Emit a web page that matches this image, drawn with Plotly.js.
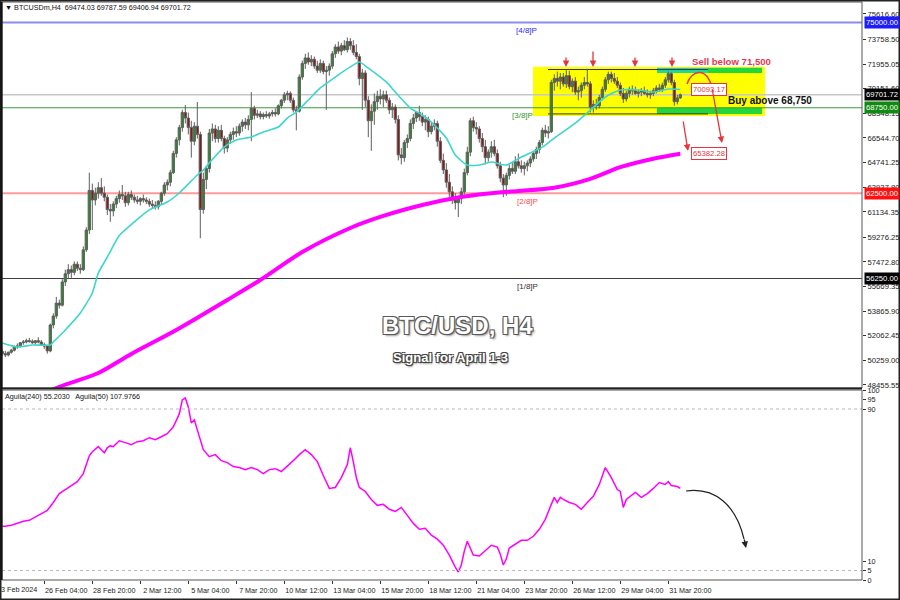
<!DOCTYPE html>
<html>
<head>
<meta charset="utf-8">
<script src="https://cdn.plot.ly/plotly-3.0.1.min.js"></script>
<style>html,body{margin:0;padding:0;background:#fff}#chart{width:900px;height:600px}</style>
</head>
<body>
<div id="chart"></div>
<script>
// ---------- DATA (H4 bars) ----------
const firstBar = '2024-02-23 20:00';
const barHours = 4;

const openP = [
50900,
50750,50650,50850,51000,51250,51300,
51550,51600,51700,51650,51550,51700,
51600,51400,51300,50950,52850,53500,
54450,54300,56000,56600,56900,56700,
57300,57000,56900,58350,59800,62700,
62000,62500,62900,62500,62200,61300,
61200,61700,62100,62400,62300,61800,
62400,62200,62000,61900,62100,62000,
61900,61700,61600,61500,61900,62500,
63100,63300,64000,65400,66400,67300,
68400,68000,67300,66300,67400,66800,
61300,63500,64300,66900,67200,66500,
67100,66500,65800,66400,66800,67000,
66900,67400,67700,67500,67900,68700,
68200,68300,68100,68250,68150,68300,
68400,68300,68900,69300,69700,69800,
69300,68600,68500,71000,72000,72400,
72100,72300,71800,71500,72000,71400,
71500,71800,72700,73200,72900,73300,
73000,73600,73300,72800,72500,70900,
71300,69300,67800,68500,69200,69600,
69400,69700,69300,68600,68800,67900,
65300,65100,66200,66500,67600,68000,
68400,68100,67700,67900,67000,67400,
67600,66300,64900,64200,63300,62600,
62000,61800,62100,62600,64000,65500,
67800,67300,67200,66500,65900,65100,
65500,65900,65400,64500,63600,63100,
63800,64300,64100,64800,64500,64300,
64500,64700,65000,65400,65700,66200,
67100,66900,67000,70600,70900,70700,
71000,70500,71100,70300,70700,69900,
70000,70400,70600,70500,68800,69000,
68900,69500,70100,70800,71200,70900,
70700,70400,69800,69400,69800,70100,
70000,69800,69900,70000,69800,69700,
69800,70000,70200,70100,70400,70800,
71250,70600,69200,69474.03
];
const highP = [
51100,
50950,50900,51100,51350,51500,51600,
51750,51850,51900,51800,51750,51950,
51750,51550,51400,52950,53700,54900,
54700,56200,56900,57300,57200,57500,
57500,57300,58600,60000,64000,63200,
62900,63300,63600,63000,62400,61700,
61900,62300,62700,63100,62600,62600,
62700,62400,62300,62200,62400,62200,
62100,62000,61900,62000,62600,63300,
63500,64200,65600,66600,67500,68600,
68950,68400,67800,67700,69170,67000,
64000,64500,67200,67600,67500,67400,
67500,66700,66600,67000,67300,67400,
67600,67900,68000,68200,69900,68900,
68600,68500,68400,68500,68450,68600,
68700,69000,69400,69900,70000,69950,
69500,68900,71200,72200,72700,72800,
72600,72500,72200,72300,72200,71800,
72000,72900,73400,73600,73500,73700,
73900,73850,73700,73400,72700,71600,
71500,69600,69000,69800,70000,70100,
70000,70000,69500,69100,69000,68200,
65800,66400,66800,67900,68300,68500,
68900,68400,68200,68100,67700,67900,
67800,66600,65400,64700,63900,63000,
62500,62300,62900,64300,65900,68000,
68100,67700,67400,66900,66400,65700,
66300,66400,65700,64800,63900,64000,
64600,64800,65200,65400,64900,64800,
64900,65200,65600,65900,66400,67300,
67500,67400,70800,71200,71400,71300,
71300,71500,71450,70900,71000,70300,
70600,71000,71600,70700,69300,69400,
69700,70300,71000,71400,71400,71300,
71000,70600,70200,70000,70300,70400,
70300,70100,70200,70300,70100,70000,
70200,70400,70500,70600,71000,71400,
71350,70800,69700,69787.59
];
const lowP = [
50600,
50500,50550,50750,50900,51100,51200,
51400,51500,51550,51450,51400,51500,
51300,51100,50750,50850,52600,53300,
54050,54200,55700,56200,56300,56500,
56800,56600,56800,58200,59500,59800,
61600,62100,62300,61900,60900,60400,
60800,61400,61800,62000,61500,61600,
62000,61800,61700,61600,61800,61700,
61500,61400,61300,61300,61700,62300,
62700,63000,63900,65100,66000,67000,
67600,66800,65100,66000,66500,59200,
61000,62800,64000,66300,66200,66200,
66300,65400,65500,66100,66400,66600,
66700,67000,67200,67100,66300,67900,
68000,67900,67900,68000,67950,68100,
68100,68200,68700,69100,69300,69100,
68400,67100,68400,70800,71600,71900,
71800,71600,71300,71300,71200,68600,
71100,71600,72400,72700,72600,72900,
72800,73000,72600,72300,70400,68600,
68800,66600,65600,67500,68600,69000,
68800,69100,68300,68000,67600,64900,
64600,64800,65800,66300,67200,67700,
67800,67400,67100,66600,66800,67100,
65900,64700,63900,62900,62200,61700,
61300,60750,61700,62400,63800,65200,
67000,66800,66200,65500,64600,64800,
65100,65200,64300,63300,62200,62300,
63500,63900,63900,64300,64000,63800,
64100,64400,64800,65000,65400,66000,
66600,66500,66900,70000,70300,70100,
70300,70200,70100,69900,69700,69300,
69500,70100,70300,68400,68400,68600,
68700,69300,69900,70500,70600,70500,
70200,69600,69100,69200,69500,69700,
69700,69500,69600,69700,69500,69400,
69600,69800,69900,69900,70200,70600,
70400,68900,69000,69406.94
];
const closeP = [
50750,
50650,50850,51000,51250,51300,51550,
51600,51700,51650,51550,51700,51600,
51400,51300,50950,52850,53500,54450,
54300,56000,56600,56900,56700,57300,
57000,56900,58350,59800,62700,62000,
62500,62900,62500,62200,61300,61200,
61700,62100,62400,62300,61800,62400,
62200,62000,61900,62100,62000,61900,
61700,61600,61500,61900,62500,63100,
63300,64000,65400,66400,67300,68400,
68000,67300,66300,67400,66800,61300,
63500,64300,66900,67200,66500,67100,
66500,65800,66400,66800,67000,66900,
67400,67700,67500,67900,68700,68200,
68300,68100,68250,68150,68300,68400,
68300,68900,69300,69700,69800,69300,
68600,68500,71000,72000,72400,72100,
72300,71800,71500,72000,71400,71500,
71800,72700,73200,72900,73300,73000,
73600,73300,72800,72500,70900,71300,
69300,67800,68500,69200,69600,69400,
69700,69300,68600,68800,67900,65300,
65100,66200,66500,67600,68000,68400,
68100,67700,67900,67000,67400,67600,
66300,64900,64200,63300,62600,62000,
61800,62100,62600,64000,65500,67800,
67300,67200,66500,65900,65100,65500,
65900,65400,64500,63600,63100,63800,
64300,64100,64800,64500,64300,64500,
64700,65000,65400,65700,66200,67100,
66900,67000,70600,70900,70700,71000,
70500,71100,70300,70700,69900,70000,
70400,70600,70500,68800,69000,68900,
69500,70100,70800,71200,70900,70700,
70400,69800,69400,69800,70100,70000,
69800,69900,70000,69800,69700,69800,
70000,70200,70100,70400,70800,71250,
70600,69200,69474,69701.72
];

// Fast moving average (cyan)
const maFastTime = ['2024-02-23 20:00','2024-02-24 16:00','2024-02-25 12:00','2024-02-26 12:00','2024-02-26 16:00','2024-02-27 08:00','2024-02-28 04:00','2024-02-28 20:00','2024-02-29 04:00','2024-02-29 16:00','2024-03-01 08:00','2024-03-02 04:00','2024-03-03 00:00','2024-03-04 00:00','2024-03-04 16:00','2024-03-05 16:00','2024-03-06 00:00','2024-03-06 08:00','2024-03-07 04:00','2024-03-07 20:00','2024-03-08 16:00','2024-03-09 08:00','2024-03-10 04:00','2024-03-10 16:00','2024-03-11 04:00','2024-03-11 20:00','2024-03-12 12:00','2024-03-13 08:00','2024-03-14 04:00','2024-03-14 16:00','2024-03-15 04:00','2024-03-16 04:00','2024-03-16 16:00','2024-03-17 12:00','2024-03-18 04:00','2024-03-18 16:00','2024-03-19 12:00','2024-03-20 00:00','2024-03-20 16:00','2024-03-21 08:00','2024-03-22 00:00','2024-03-22 20:00','2024-03-23 16:00','2024-03-24 20:00','2024-03-25 12:00','2024-03-26 16:00','2024-03-27 12:00','2024-03-28 08:00','2024-03-29 04:00','2024-03-30 04:00','2024-03-31 00:00','2024-03-31 20:00','2024-04-01 12:00'];
const maFastValue = [51530,51240,51380,51380,51600,52480,53720,55190,56650,57820,59400,60390,61270,61850,62510,63830,64190,64710,65880,66390,66610,66980,67340,68000,68440,69320,70200,71000,71740,72100,71660,70640,69900,68730,68220,67710,66540,65290,64560,64560,64780,64560,65140,65870,66530,67630,68580,69540,70050,70050,69900,70120,70093.17];

// Slow moving average (magenta)
const maSlowTime = ['2024-02-25 20:00','2024-02-26 20:00','2024-02-29 04:00','2024-03-02 00:00','2024-03-04 12:00','2024-03-07 08:00','2024-03-09 04:00','2024-03-11 12:00','2024-03-14 04:00','2024-03-16 00:00','2024-03-18 04:00','2024-03-20 00:00','2024-03-21 20:00','2024-03-23 12:00','2024-03-25 12:00','2024-03-27 12:00','2024-03-29 04:00','2024-03-31 00:00','2024-04-01 12:00'];
const maSlowValue = [47540,48235,49330,50730,52480,54680,56140,58190,59950,60830,61630,62140,62470,62660,62900,63550,64400,65020,65382.28];

// Aguila oscillator (lower panel)
const aguilaTime = ['2024-02-23 20:00','2024-02-24 00:00','2024-02-24 08:00','2024-02-24 16:00','2024-02-25 00:00','2024-02-25 08:00','2024-02-25 16:00','2024-02-26 00:00','2024-02-26 08:00','2024-02-26 16:00','2024-02-27 00:00','2024-02-27 08:00','2024-02-27 16:00','2024-02-28 00:00','2024-02-28 08:00','2024-02-28 16:00','2024-02-28 20:00','2024-02-29 00:00','2024-02-29 04:00','2024-02-29 08:00','2024-02-29 12:00','2024-02-29 16:00','2024-02-29 20:00','2024-03-01 00:00','2024-03-01 08:00','2024-03-01 16:00','2024-03-02 00:00','2024-03-02 08:00','2024-03-02 16:00','2024-03-03 00:00','2024-03-03 08:00','2024-03-03 16:00','2024-03-04 00:00','2024-03-04 08:00','2024-03-04 12:00','2024-03-04 16:00','2024-03-04 20:00','2024-03-05 00:00','2024-03-05 04:00','2024-03-05 08:00','2024-03-05 12:00','2024-03-05 16:00','2024-03-05 20:00','2024-03-06 00:00','2024-03-06 08:00','2024-03-06 16:00','2024-03-07 00:00','2024-03-07 08:00','2024-03-07 16:00','2024-03-08 00:00','2024-03-08 08:00','2024-03-08 16:00','2024-03-09 00:00','2024-03-09 08:00','2024-03-09 16:00','2024-03-10 00:00','2024-03-10 08:00','2024-03-10 16:00','2024-03-11 00:00','2024-03-11 08:00','2024-03-11 16:00','2024-03-12 00:00','2024-03-12 08:00','2024-03-12 16:00','2024-03-13 00:00','2024-03-13 08:00','2024-03-13 16:00','2024-03-14 00:00','2024-03-14 04:00','2024-03-14 08:00','2024-03-14 12:00','2024-03-14 16:00','2024-03-15 00:00','2024-03-15 08:00','2024-03-15 16:00','2024-03-16 00:00','2024-03-16 08:00','2024-03-16 16:00','2024-03-17 00:00','2024-03-17 08:00','2024-03-17 16:00','2024-03-18 00:00','2024-03-18 08:00','2024-03-18 16:00','2024-03-19 00:00','2024-03-19 08:00','2024-03-19 16:00','2024-03-20 00:00','2024-03-20 04:00','2024-03-20 08:00','2024-03-20 12:00','2024-03-20 16:00','2024-03-20 20:00','2024-03-21 00:00','2024-03-21 08:00','2024-03-21 16:00','2024-03-22 00:00','2024-03-22 08:00','2024-03-22 12:00','2024-03-22 16:00','2024-03-22 20:00','2024-03-23 00:00','2024-03-23 08:00','2024-03-23 16:00','2024-03-24 00:00','2024-03-24 08:00','2024-03-24 16:00','2024-03-25 00:00','2024-03-25 08:00','2024-03-25 12:00','2024-03-25 16:00','2024-03-25 20:00','2024-03-26 00:00','2024-03-26 08:00','2024-03-26 16:00','2024-03-27 00:00','2024-03-27 08:00','2024-03-27 16:00','2024-03-28 00:00','2024-03-28 08:00','2024-03-28 16:00','2024-03-29 00:00','2024-03-29 04:00','2024-03-29 08:00','2024-03-29 12:00','2024-03-29 16:00','2024-03-30 00:00','2024-03-30 08:00','2024-03-30 16:00','2024-03-31 00:00','2024-03-31 08:00','2024-03-31 16:00','2024-03-31 20:00','2024-04-01 00:00','2024-04-01 08:00','2024-04-01 12:00'];
const aguilaValue = [28.3,28.3,28.8,29.8,30.9,31.4,33.0,34.6,36.6,40.8,45.5,47.6,49.7,51.8,56.0,65.4,67.5,69.1,70.2,68.6,67.0,69.6,70.7,70.2,73.3,72.3,71.2,72.8,73.3,74.9,73.8,75.4,77.0,80.6,84.3,87.4,94.8,95.8,91.1,82.7,84.3,79.1,72.8,68.6,64.9,66.0,62.8,61.8,59.7,59.2,58.1,59.2,58.1,56.0,58.1,58.6,57.1,59.7,62.8,66.0,68.6,66.0,62.3,55.0,48.2,48.7,53.9,60.7,69.6,62.3,53.9,48.7,46.6,42.4,39.3,39.8,37.2,36.1,38.2,34.0,29.8,26.7,27.2,23.6,21.5,18.3,13.1,6.8,4.2,7.9,15.2,20.4,16.2,13.1,12.6,15.7,18.3,17.3,13.6,7.9,11.0,16.8,18.8,20.9,20.9,23.0,26.7,31.9,39.8,43.5,40.8,43.5,42.4,40.8,39.8,37.2,40.8,44.0,50.3,59.2,53.9,47.6,46.6,38.2,42.4,43.5,46.1,43.5,45.5,48.2,51.3,50.3,51.8,49.7,49.2,48.2];

// Price levels (Murrey lines) and marked prices
const levelPrices = [75000, 68750, 62500, 56250];
const levelNames = ['[4/8]P', '[3/8]P', '[2/8]P', '[1/8]P'];
const lastPrice = 69701.72;
const sellLevel = 71550, buyZoneBottom = 68300;
const fastMaLabel = 70093.17, slowMaLabel = 65382.28;

const priceTicks = [75616.60,73758.50,71955.05,70151.60,68348.15,66544.70,64741.25,62937.80,61134.35,59276.25,57472.80,55669.35,53865.90,52062.45,50259.00,48455.55];
const timeTickVals = ['2024-02-26 04:00','2024-02-28 20:00','2024-03-02 12:00','2024-03-05 04:00','2024-03-07 20:00','2024-03-10 12:00','2024-03-13 04:00','2024-03-15 20:00','2024-03-18 12:00','2024-03-21 04:00','2024-03-23 20:00','2024-03-26 12:00','2024-03-29 04:00','2024-03-31 20:00'];
const timeTickText = ['26 Feb 04:00','28 Feb 20:00','2 Mar 12:00','5 Mar 04:00','7 Mar 20:00','10 Mar 12:00','13 Mar 04:00','15 Mar 20:00','18 Mar 12:00','21 Mar 04:00','23 Mar 20:00','26 Mar 12:00','29 Mar 04:00','31 Mar 20:00'];
const firstDateLabel = '23 Feb 2024';

// ---------- BUILD ----------
const t0 = Date.parse(firstBar.replace(' ', 'T') + ':00Z');
const barTime = closeP.map((_, i) => new Date(t0 + i * barHours * 3600000).toISOString().slice(0, 16).replace('T', ' '));

const FONT = 'Liberation Sans, Arial, sans-serif';

const traces = [
  {
    type: 'candlestick', x: barTime, open: openP, high: highP, low: lowP, close: closeP,
    xaxis: 'x', yaxis: 'y', hoverinfo: 'skip', showlegend: false,
    increasing: { line: { color: '#5e5e5e', width: 1 }, fillcolor: '#2a8a2a' },
    decreasing: { line: { color: '#5e5e5e', width: 1 }, fillcolor: '#8e1414' },
    whiskerwidth: 0
  },
  { type: 'scatter', mode: 'lines', x: maFastTime, y: maFastValue, xaxis: 'x', yaxis: 'y',
    line: { color: '#3ed6cc', width: 1.6, shape: 'spline', smoothing: 0.6 }, hoverinfo: 'skip', showlegend: false },
  { type: 'scatter', mode: 'lines', x: maSlowTime, y: maSlowValue, xaxis: 'x', yaxis: 'y',
    line: { color: '#ff00ff', width: 4, shape: 'spline', smoothing: 0.8 }, hoverinfo: 'skip', showlegend: false },
  { type: 'scatter', mode: 'lines', x: aguilaTime, y: aguilaValue, xaxis: 'x', yaxis: 'y2',
    line: { color: '#ff00ff', width: 1.5 }, hoverinfo: 'skip', showlegend: false }
];

// helpers to convert figure pixels to paper coords (plot area: x 2..862, y 2..580)
const PX = px => (px - 2) / 860;
const PY = py => (580 - py) / 578;

const levelColors = ['#8c8cf0', '#3a9a3a', '#ff9a9a', '#404040'];
const levelWidths = [2, 1, 2, 1];
const levelTextColors = ['#2b2bff', '#2f9a2f', '#ff4a4a', '#303030'];
const levelLabelX = [PX(526), PX(522), PX(527), PX(527)];

const shapes = [];
// trading box
shapes.push({ type: 'rect', layer: 'below', xref: 'paper', yref: 'y', x0: PX(533), x1: PX(765), y0: 68147, y1: 71757, fillcolor: '#ffff00', line: { width: 0 } });
shapes.push({ type: 'rect', layer: 'below', xref: 'paper', yref: 'y', x0: PX(657), x1: PX(708), y0: 71300, y1: 71680, fillcolor: '#22d6a0', line: { width: 0 } });
shapes.push({ type: 'rect', layer: 'below', xref: 'paper', yref: 'y', x0: PX(708), x1: PX(762), y0: 71300, y1: 71680, fillcolor: '#22d63c', line: { width: 0 } });
shapes.push({ type: 'rect', layer: 'below', xref: 'paper', yref: 'y', x0: PX(657), x1: PX(762), y0: buyZoneBottom, y1: 68750, fillcolor: '#22d63c', line: { width: 0 } });
// price levels
levelPrices.forEach((p, i) => shapes.push({ type: 'line', layer: 'below', xref: 'paper', yref: 'y', x0: 0, x1: 1, y0: p, y1: p, line: { color: levelColors[i], width: levelWidths[i] } }));
shapes.push({ type: 'line', layer: 'below', xref: 'paper', yref: 'y', x0: 0, x1: 1, y0: lastPrice, y1: lastPrice, line: { color: '#c4c8cc', width: 1.5 } });
// box range lines
[sellLevel, buyZoneBottom].forEach(p => shapes.push({ type: 'line', layer: 'below', xref: 'paper', yref: 'y', x0: PX(548), x1: PX(708), y0: p, y1: p, line: { color: '#333', width: 1 } }));
// oscillator levels
[90, 5].forEach(v => shapes.push({ type: 'line', xref: 'paper', yref: 'y2', x0: 0, x1: 1, y0: v, y1: v, line: { color: '#b8b8b8', width: 1, dash: 'dot' } }));
// red projection curve
shapes.push({ type: 'path', xref: 'paper', yref: 'paper', path: `M ${PX(687)} ${PY(84)} C ${PX(692)} ${PY(69)} ${PX(707)} ${PY(67)} ${PX(712)} ${PY(88)}`, line: { color: '#e8343c', width: 1.4 } });
// black curve in oscillator
shapes.push({ type: 'path', xref: 'paper', yref: 'paper', path: `M ${PX(686)} ${PY(491)} C ${PX(715)} ${PY(487)} ${PX(736)} ${PY(505)} ${PX(744)} ${PY(539)}`, line: { color: '#222', width: 1.2 } });
// panel frames
shapes.push({ type: 'rect', xref: 'paper', yref: 'paper', x0: 0, x1: 1, y0: PY(388), y1: 1, line: { color: '#555', width: 1 } });
shapes.push({ type: 'line', xref: 'paper', yref: 'paper', x0: 0, x1: 1, y0: PY(388.5), y1: PY(388.5), line: { color: '#222', width: 2 } });
shapes.push({ type: 'rect', xref: 'paper', yref: 'paper', x0: 0, x1: 1, y0: 0, y1: PY(390), line: { color: '#555', width: 1 } });
shapes.push({ type: 'rect', xref: 'paper', yref: 'paper', x0: PX(0.5), x1: PX(899.5), y0: PY(599.5), y1: PY(0.5), line: { color: '#222', width: 2 } });
shapes.push({ type: 'line', xref: 'paper', yref: 'paper', x0: PX(1.5), x1: PX(1.5), y0: 0, y1: 1, line: { color: '#111', width: 2 } });

const annotations = [];
const note = (o) => annotations.push(Object.assign({ showarrow: false, font: { family: FONT, size: 7.5, color: '#222' } }, o));

note({ xref: 'paper', yref: 'paper', x: PX(3), y: PY(7.5), xanchor: 'left', yanchor: 'middle', text: '▼ BTCUSDm,H4  69474.03 69787.59 69406.94 69701.72', font: { family: FONT, size: 7.2, color: '#111' } });
note({ xref: 'paper', yref: 'paper', x: PX(3), y: PY(397), xanchor: 'left', yanchor: 'middle', text: 'Aguila(240) 55.2030   Aguila(50) 107.9766', font: { family: FONT, size: 7.2, color: '#111' } });
// first date label, partly cut by the left edge as in the terminal
note({ xref: 'paper', yref: 'paper', x: PX(39), y: PY(589), xanchor: 'right', yanchor: 'middle', text: firstDateLabel, font: { family: FONT, size: 7.2, color: '#222' } });

levelPrices.forEach((p, i) => note({ xref: 'paper', yref: 'y', x: levelLabelX[i], y: p, yshift: -8, xanchor: 'center', yanchor: 'middle', text: levelNames[i], font: { family: FONT, size: 8, color: levelTextColors[i] } }));

// right-axis price boxes
const priceBoxes = [[75000, '#1c1cff'], [lastPrice, '#000000'], [68750, '#108a10'], [62500, '#ff1010'], [56250, '#000000']];
priceBoxes.forEach(([p, c]) => note({ xref: 'paper', yref: 'y', x: 1, xshift: 2, y: p, xanchor: 'left', yanchor: 'middle', text: p.toFixed(2), bgcolor: c, borderpad: 1, font: { family: FONT, size: 7.7, color: '#ffffff' } }));

// MA labels
[fastMaLabel, slowMaLabel].forEach(p => note({ xref: 'paper', yref: 'y', x: PX(691), y: p, xanchor: 'left', yanchor: 'middle', text: p.toFixed(2), bgcolor: '#ffffff', bordercolor: '#e8343c', borderwidth: 1, borderpad: 1, font: { family: FONT, size: 7.7, color: '#e8343c' } }));

note({ xref: 'paper', yref: 'paper', x: PX(731), y: PY(61), xanchor: 'center', yanchor: 'middle', text: '<b>Sell below 71,500</b>', font: { family: FONT, size: 9.6, color: '#e8384f' } });
note({ xref: 'paper', yref: 'paper', x: PX(769.5), y: PY(101), xanchor: 'center', yanchor: 'middle', text: '<b>Buy above 68,750</b>', font: { family: FONT, size: 10, color: '#111' } });

const outline = '-1px -1px 0 #5a5a5a, 1px -1px 0 #5a5a5a, -1px 1px 0 #5a5a5a, 1px 1px 0 #5a5a5a, 2px 2px 2px #9a9a9a';
note({ xref: 'paper', yref: 'paper', x: PX(457), y: PY(325), xanchor: 'center', yanchor: 'middle', text: '<b>BTC/USD, H4</b>', font: { family: FONT, size: 24, color: '#ffffff', shadow: outline } });
note({ xref: 'paper', yref: 'paper', x: PX(450), y: PY(357), xanchor: 'center', yanchor: 'middle', text: '<b>Signal for April 1-3</b>', font: { family: FONT, size: 13, color: '#ffffff', shadow: '-1px -1px 0 #444, 1px -1px 0 #444, -1px 1px 0 #444, 1px 1px 0 #444, 1px 2px 2px #888' } });

// arrows
const arrow = (hx, hy, ax, ay, color) => annotations.push({ xref: 'paper', yref: 'paper', x: PX(hx), y: PY(hy), ax: ax, ay: ay, text: '', showarrow: true, arrowhead: 2, arrowsize: 1, arrowwidth: 1.3, arrowcolor: color });
arrow(566, 67, 0, -11, '#e8343c');
arrow(593, 67, 0, -17, '#e8343c');
arrow(635, 67, 0, -11, '#e8343c');
arrow(672, 67, 0, -11, '#e8343c');
arrow(722, 143, -10, -55, '#e8343c');
arrow(688, 151, -5, -31, '#e8343c');
arrow(746, 548, -2, -10, '#222');

const layout = {
  width: 900, height: 600,
  margin: { l: 2, r: 38, t: 2, b: 20, pad: 0 },
  paper_bgcolor: '#ffffff', plot_bgcolor: '#ffffff',
  showlegend: false, hovermode: false,
  boxgap: 0.25, boxgroupgap: 0,
  font: { family: FONT, size: 8, color: '#222' },
  xaxis: {
    type: 'date', anchor: 'y2', range: ['2024-02-23 19:36', '2024-04-11 14:16'],
    rangeslider: { visible: false }, showgrid: false, zeroline: false, showline: false,
    tickmode: 'array', tickvals: timeTickVals, ticktext: timeTickText, tickangle: 0,
    ticks: 'outside', ticklen: 3, tickcolor: '#333', tickwidth: 1, ticklabelstandoff: 0,
    tickfont: { family: FONT, size: 7.2, color: '#222' }, ticklabelshift: 22, fixedrange: true
  },
  yaxis: {
    domain: [PY(388), 1], range: [48234, 76494], side: 'right', anchor: 'x',
    showgrid: false, zeroline: false, showline: false,
    tickmode: 'array', tickvals: priceTicks, tickformat: '.2f',
    ticks: 'outside', ticklen: 3, tickcolor: '#333',
    tickfont: { family: FONT, size: 7.7, color: '#222' }, fixedrange: true
  },
  yaxis2: {
    domain: [0, PY(390)], range: [0, 100], side: 'right', anchor: 'x',
    showgrid: false, zeroline: false, showline: false,
    tickmode: 'array', tickvals: [100, 95, 90, 10, 5, 0], ticktext: ['100', '95', '90', '10', '5', '0'],
    ticks: 'outside', ticklen: 3, tickcolor: '#333',
    tickfont: { family: FONT, size: 7.3, color: '#222' }, fixedrange: true
  },
  shapes: shapes,
  annotations: annotations
};

Plotly.newPlot('chart', traces, layout, { staticPlot: true, displayModeBar: false });
</script>
</body>
</html>
